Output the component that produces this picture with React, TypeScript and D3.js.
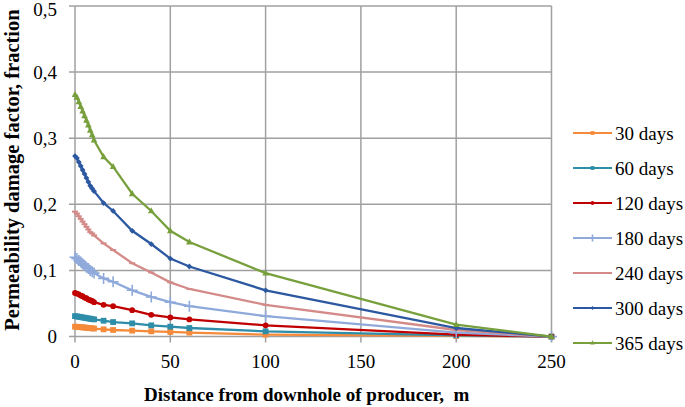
import React from "react";
import * as d3 from "d3";

const distances = [0, 1, 2, 3, 4, 5, 6, 7, 8, 9, 10, 15, 20, 30, 40, 50, 60, 100, 200, 250];

const seriesNames = ["30 days", "60 days", "120 days", "180 days", "240 days", "300 days", "365 days"];
const d30 = [0.015, 0.0148, 0.0145, 0.0142, 0.014, 0.0137, 0.0134, 0.0131, 0.0128, 0.0125, 0.0122, 0.011, 0.010, 0.009, 0.008, 0.007, 0.006, 0.003, 0.001, 0];
const d60 = [0.031, 0.0305, 0.030, 0.0295, 0.029, 0.0285, 0.028, 0.0275, 0.027, 0.0265, 0.026, 0.024, 0.022, 0.020, 0.017, 0.015, 0.013, 0.008, 0.002, 0];
const d120 = [0.066, 0.065, 0.064, 0.062, 0.061, 0.059, 0.058, 0.056, 0.055, 0.054, 0.052, 0.048, 0.046, 0.040, 0.033, 0.029, 0.026, 0.017, 0.003, 0];
const d180 = [0.120, 0.118, 0.115, 0.113, 0.110, 0.108, 0.105, 0.103, 0.100, 0.098, 0.096, 0.088, 0.083, 0.070, 0.060, 0.052, 0.046, 0.031, 0.006, 0];
const d240 = [0.189, 0.186, 0.182, 0.178, 0.174, 0.170, 0.166, 0.162, 0.158, 0.156, 0.153, 0.141, 0.131, 0.111, 0.097, 0.082, 0.072, 0.048, 0.010, 0];
const d300 = [0.273, 0.270, 0.264, 0.258, 0.252, 0.246, 0.240, 0.234, 0.228, 0.224, 0.220, 0.202, 0.190, 0.160, 0.140, 0.118, 0.106, 0.070, 0.013, 0];
const d365 = [0.366, 0.362, 0.355, 0.348, 0.341, 0.334, 0.327, 0.320, 0.312, 0.305, 0.297, 0.272, 0.257, 0.216, 0.190, 0.160, 0.143, 0.096, 0.018, 0];

const seriesValues = [d30, d60, d120, d180, d240, d300, d365];
const colors = ["#F58A3A", "#2E8DA8", "#C00000", "#8FA9DB", "#D48A88", "#2B58A0", "#77A03C"];
const markers = ["square", "square", "circle", "plus", "dash", "diamond", "triangle"];

const xTicks = [0, 50, 100, 150, 200, 250];
const yTicks = [0, 0.1, 0.2, 0.3, 0.4, 0.5];

const serif = "'Liberation Serif', 'Times New Roman', serif";

function Marker({ type, x, y, color, size = 1 }: { type: string; x: number; y: number; color: string; size?: number }) {
  const s = 2.9 * size;
  switch (type) {
    case "square":
      return <rect x={x - s} y={y - s} width={2 * s} height={2 * s} fill={color} />;
    case "circle":
      return <circle cx={x} cy={y} r={s} fill={color} />;
    case "plus":
      return (
        <path d={`M${x - 5.5 * size},${y}H${x + 5.5 * size}M${x},${y - 5.5 * size}V${y + 5.5 * size}`} stroke={color} strokeWidth={1.6} />
      );
    case "dash":
      return <path d={`M${x - 3},${y}H${x + 3}`} stroke={color} strokeWidth={2} />;
    case "diamond":
      return <path d={`M${x},${y - s}L${x + s},${y}L${x},${y + s}L${x - s},${y}Z`} fill={color} />;
    case "triangle":
      return <path d={`M${x},${y - s - 0.8}L${x + s + 0.4},${y + s - 0.5}L${x - s - 0.4},${y + s - 0.5}Z`} fill={color} />;
    default:
      return null;
  }
}

export default function App() {
  const W = 685, H = 407;
  const x = d3.scaleLinear().domain([0, 250]).range([75, 551.5]);
  const y = d3.scaleLinear().domain([0, 0.5]).range([336.6, 6]);
  const line = d3.line<[number, number]>().x((d) => x(d[0])).y((d) => y(d[1]));
  const grid = "#A0A0A0";

  return (
    <svg width={W} height={H} style={{ position: "absolute", left: 0, top: 0, background: "#fff" }}>
      {/* gridlines */}
      {yTicks.map((t) => (
        <line key={"gy" + t} x1={x(0) - 6} x2={x(250)} y1={y(t)} y2={y(t)} stroke={grid} strokeWidth={1.5} />
      ))}
      {xTicks.map((t) => (
        <line key={"gx" + t} x1={x(t)} x2={x(t)} y1={y(0.5)} y2={y(0) + 6} stroke={grid} strokeWidth={1.5} />
      ))}
      {/* tick labels */}
      {yTicks.map((t) => (
        <text key={"ly" + t} x={57} y={Math.max(y(t) + 6.8, 15.5)} textAnchor="end" fontFamily={serif} fontSize={19} fill="#000">
          {t === 0 ? "0" : d3.format(".1f")(t).replace(".", ",")}
        </text>
      ))}
      {xTicks.map((t) => (
        <text key={"lx" + t} x={x(t)} y={368} textAnchor="middle" fontFamily={serif} fontSize={19} fill="#000">
          {t}
        </text>
      ))}
      {/* series */}
      {seriesValues.map((vals, i) => {
        const pts = distances.map((d, j) => [d, vals[j]] as [number, number]);
        return (
          <g key={"s" + i}>
            <path d={line(pts) || ""} fill="none" stroke={colors[i]} strokeWidth={2.3} />
            {pts.map((p, j) => (
              <Marker key={j} type={markers[i]} x={x(p[0])} y={y(p[1])} color={colors[i]} />
            ))}
          </g>
        );
      })}
      {/* legend */}
      {seriesNames.map((n, i) => {
        const ly = 133 + i * 35;
        return (
          <g key={"lg" + i}>
            <line x1={573} x2={612} y1={ly} y2={ly} stroke={colors[i]} strokeWidth={2.2} />
            <Marker type={markers[i]} x={592.5} y={ly} color={colors[i]} size={0.65} />
            <text x={615} y={ly + 6.5} fontFamily={serif} fontSize={19} fill="#000">
              {n}
            </text>
          </g>
        );
      })}
      {/* axis titles */}
      <text x={144} y={401} fontFamily={serif} fontSize={19} fontWeight="bold" fill="#000" style={{ whiteSpace: "pre" }}>
        {"Distance from downhole of producer,  m"}
      </text>
      <text
        transform={`translate(18.5,170) rotate(-90)`}
        textAnchor="middle"
        fontFamily={serif}
        fontSize={20.5}
        fontWeight="bold"
        fill="#000"
      >
        Permeability damage factor, fraction
      </text>
    </svg>
  );
}
